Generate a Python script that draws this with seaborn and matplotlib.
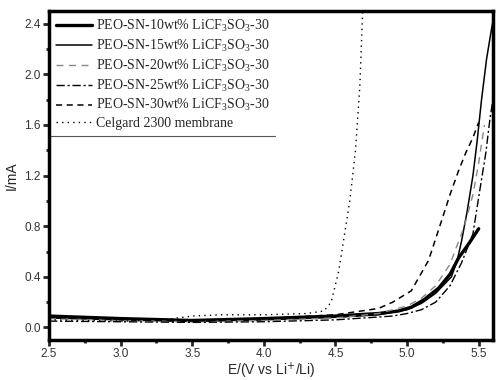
import numpy as np
import matplotlib
matplotlib.use("Agg")
import matplotlib.pyplot as plt
import seaborn as sns
from matplotlib.lines import Line2D
from matplotlib.ticker import MultipleLocator

sns.set_theme(style="ticks")
plt.rcParams["font.family"] = ["Liberation Sans", "DejaVu Sans"]
plt.rcParams["mathtext.rm"] = "Liberation Serif"
plt.rcParams["mathtext.it"] = "Liberation Serif:italic"
plt.rcParams["mathtext.bf"] = "Liberation Serif:bold"

# voltage (V) / current (mA)
x_10 = [2.5, 3.0, 3.5, 4.0, 4.5, 4.8, 4.94, 5.03, 5.12, 5.22, 5.3, 5.36, 5.43, 5.5]
i_10 = [0.09, 0.07, 0.055, 0.07, 0.09, 0.11, 0.13, 0.16, 0.22, 0.31, 0.42, 0.55, 0.66, 0.78]

x_15 = [2.5, 3.0, 3.5, 4.0, 4.5, 4.8, 5.0, 5.1, 5.2, 5.31, 5.35, 5.38, 5.42, 5.46, 5.49, 5.52, 5.555, 5.59, 5.6]
i_15 = [0.075, 0.06, 0.05, 0.06, 0.08, 0.10, 0.14, 0.19, 0.27, 0.4, 0.53, 0.68, 0.92, 1.2, 1.48, 1.8, 2.12, 2.36, 2.42]

x_20 = [2.5, 3.0, 3.5, 4.0, 4.5, 4.8, 5.0, 5.1, 5.2, 5.3, 5.4, 5.46, 5.5, 5.54]
i_20 = [0.07, 0.055, 0.045, 0.055, 0.075, 0.11, 0.17, 0.23, 0.33, 0.5, 0.8, 1.05, 1.3, 1.6]

x_25 = [2.5, 3.0, 3.5, 4.0, 4.5, 4.9, 5.0, 5.1, 5.2, 5.3, 5.38, 5.46, 5.51, 5.55, 5.58, 5.6]
i_25 = [0.05, 0.045, 0.04, 0.045, 0.06, 0.09, 0.11, 0.14, 0.2, 0.33, 0.51, 0.74, 1.1, 1.38, 1.66, 1.8]

x_30 = [2.5, 3.0, 3.5, 4.0, 4.5, 4.8, 4.9, 5.03, 5.15, 5.24, 5.3, 5.36, 5.41, 5.46, 5.5]
i_30 = [0.08, 0.065, 0.05, 0.07, 0.10, 0.15, 0.2, 0.29, 0.53, 0.84, 1.05, 1.24, 1.38, 1.5, 1.62]

x_cg = [2.5, 3.0, 3.3, 3.5, 3.7, 4.0, 4.3, 4.42, 4.47, 4.52, 4.546, 4.6, 4.64, 4.67, 4.69]
i_cg = [0.06, 0.05, 0.06, 0.09, 0.10, 0.10, 0.11, 0.13, 0.2, 0.43, 0.61, 1.0, 1.4, 1.9, 2.5]

labels = [
    r"PEO-SN-10wt% LiCF$_3$SO$_3$-30",
    r"PEO-SN-15wt% LiCF$_3$SO$_3$-30",
    r"PEO-SN-20wt% LiCF$_3$SO$_3$-30",
    r"PEO-SN-25wt% LiCF$_3$SO$_3$-30",
    r"PEO-SN-30wt% LiCF$_3$SO$_3$-30",
    "Celgard 2300 membrane",
]

series = [(x_10, i_10), (x_15, i_15), (x_20, i_20), (x_25, i_25), (x_30, i_30), (x_cg, i_cg)]
styles = [
    dict(color="black", lw=2.4, ls="-"),
    dict(color="black", lw=1.1, ls="-"),
    dict(color="#888888", lw=1.0, ls=(0, (5, 4))),
    dict(color="black", lw=1.0, ls=(0, (6, 2, 1.5, 2))),
    dict(color="black", lw=1.1, ls=(0, (4, 3))),
    dict(color="black", lw=1.0, ls=(0, (1, 3))),
]

fig = plt.figure(figsize=(5, 3.8), dpi=100)
ax = fig.add_axes([0.098, 0.105, 0.888, 0.866])

for (xs, ys), lab, st in zip(series, labels, styles):
    sns.lineplot(x=np.array(xs), y=np.array(ys), ax=ax, label=lab,
                 color=st["color"], linewidth=st["lw"], linestyle=st["ls"],
                 sort=False)

ax.set_xlim(2.5, 5.6)
ax.set_ylim(-0.1, 2.5)
ax.xaxis.set_major_locator(MultipleLocator(0.5))
ax.xaxis.set_minor_locator(MultipleLocator(0.25))
ax.yaxis.set_major_locator(MultipleLocator(0.4))
ax.yaxis.set_minor_locator(MultipleLocator(0.2))
ax.tick_params(which="major", direction="out", length=4, width=2, labelsize=8.5,
               labelcolor="#333333", pad=2)
ax.tick_params(which="minor", direction="out", length=2.5, width=2)
for sp in ax.spines.values():
    sp.set_linewidth(2.5)
    sp.set_color("black")

ax.set_xlabel(r"E/(V vs Li$^{+}$/Li)", fontsize=10, labelpad=0)
ax.set_ylabel("I/mA", fontsize=10, labelpad=4)

leg = ax.legend(loc="upper left", frameon=False, borderaxespad=0.1,
                handlelength=2.6, handletextpad=0.25, labelspacing=0.27,
                prop={"family": "Liberation Serif", "size": 10})
for t in leg.get_texts():
    t.set_math_fontfamily("custom")

# thin rule under the legend, as in the original
fig.canvas.draw()
bb = leg.get_window_extent().transformed(ax.transAxes.inverted())
ax.add_line(Line2D([0, bb.x1], [bb.y0, bb.y0], transform=ax.transAxes,
                   color="#555555", lw=0.8))

fig.savefig("out.png", dpi=100)
